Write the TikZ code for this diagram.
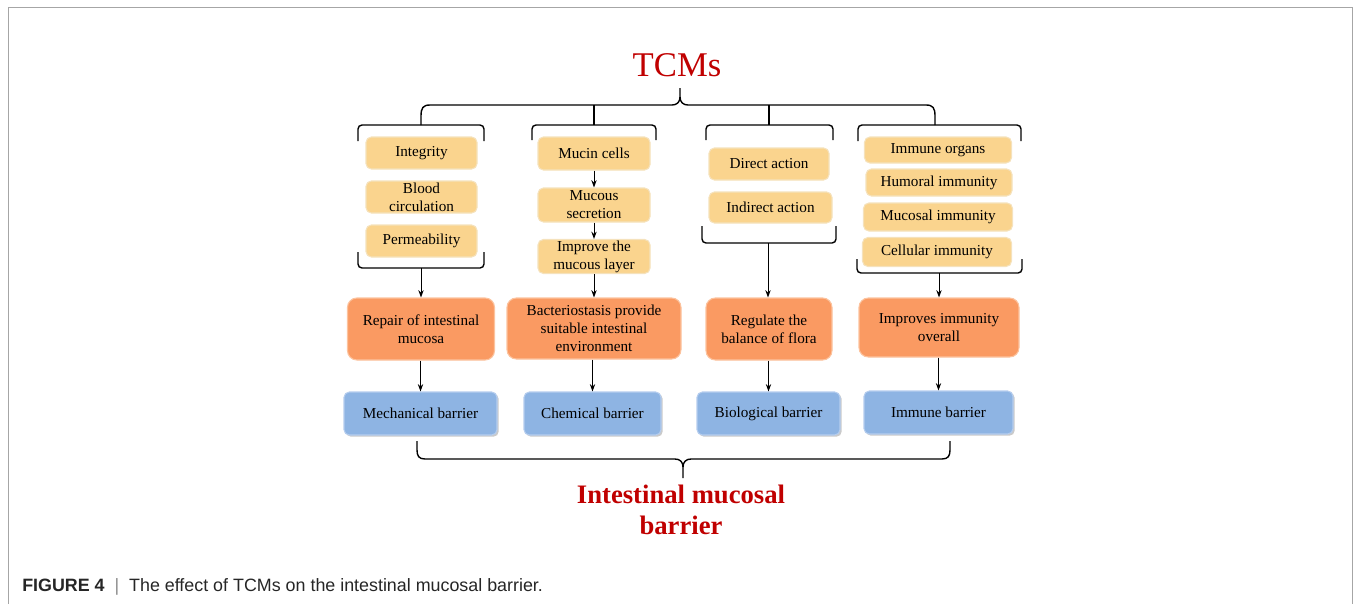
\documentclass[tikz,border=0pt]{standalone}
\usepackage{fontspec}
\setmainfont{Liberation Serif}
\newfontfamily\capfont{Liberation Sans}
\usetikzlibrary{arrows.meta,shadows}
\definecolor{tcmred}{HTML}{C00000}
\definecolor{ybox}{HTML}{FAD48E}
\definecolor{yline}{HTML}{F5E2BC}
\definecolor{obox}{HTML}{FA9A62}
\definecolor{oline}{HTML}{FCC39E}
\definecolor{bbox}{HTML}{8EB4E3}
\definecolor{bline}{HTML}{B5CDEE}
\definecolor{frame}{HTML}{A6A6A6}
\begin{document}
\begin{tikzpicture}[x=0.75pt,y=-0.75pt,
  sz/.style 2 args={minimum width=#1*0.75pt, minimum height=#2*0.75pt},
  box/.style={inner sep=0pt, align=center, font=\fontsize{11.4}{13.5}\selectfont},
  ybx/.style={box, fill=ybox, draw=yline, line width=0.8pt, rounded corners=4pt},
  obx/.style={box, fill=obox, draw=oline, line width=0.8pt, rounded corners=7pt},
  bbx/.style={box, fill=bbox, draw=bline, line width=0.8pt, rounded corners=4pt,
    drop shadow={shadow xshift=1.3pt, shadow yshift=-1.3pt, opacity=0.35, fill=black!60}},
  arr/.style={-{Stealth[length=5.5pt,width=4pt]}, line width=0.75pt},
  brk/.style={line width=1.05pt, rounded corners=3pt},
  brace/.style={line width=1.05pt}
]
\useasboundingbox (0,0) rectangle (1356,604);
% frame
\draw[frame, line width=1pt] (8.5,604) -- (8.5,7.5) -- (1352.5,7.5) -- (1352.5,604);

% title
\node[text=tcmred, font=\fontsize{26}{30}\selectfont] (tcm) at (677,65) {TCMs};

% top brace
\coordinate (tb) at (680,88);
\coordinate (g1t) at (421,125);
\coordinate (g2t) at (594,125);
\coordinate (g3t) at (769,125);
\coordinate (g4t) at (935,125);
\draw[brace] (g1t) -- (421,116) .. controls (421,108) and (423,105) .. (430,105) -- (672,105)
  .. controls (677,105) and (680,102) .. (680,97) -- (tb);
\draw[brace] (680,97) .. controls (680,102) and (683,105) .. (688,105) -- (926,105)
  .. controls (933,105) and (935,108) .. (935,116) -- (g4t);
\draw[brace] (594,105) -- (g2t);
\draw[brace] (769,105) -- (g3t);

% group top brackets
\draw[brk] (358,141) -- (358,125) -- (484,125) -- (484,141);
\draw[brk] (532,140) -- (532,125) -- (656,125) -- (656,140);
\draw[brk] (706,140) -- (706,125) -- (833,125) -- (833,140);
\draw[brk] (858,141) -- (858,125) -- (1021,125) -- (1021,141);

% group 1
\node[ybx, sz={111}{32}] (y11) at (421.5,153) {Integrity};
\node[ybx, sz={111}{32}] (y12) at (421.5,197) {Blood\\circulation};
\node[ybx, sz={111}{32}] (y13) at (421.5,241) {Permeability};
\draw[brk] (358,252) -- (358,268) -- (484,268) -- (484,252);
\coordinate (b1) at (421,268);

% group 2
\node[ybx, sz={112}{33}] (y21) at (594,153.5) {Mucin cells};
\node[ybx, sz={112}{34}] (y22) at (594,205) {Mucous\\secretion};
\node[ybx, sz={112}{34}] (y23) at (594,256.5) {Improve the\\mucous layer};
\draw[arr] (y21) -- (y22);
\draw[arr] (y22) -- (y23);

% group 3
\node[ybx, sz={120}{32}] (y31) at (769,164) {Direct action};
\node[ybx, sz={123}{31}] (y32) at (770.5,207.5) {Indirect action};
\draw[brk] (702,226) -- (702,243) -- (836,243) -- (836,226);
\coordinate (b3) at (768,243);

% group 4
\node[ybx, sz={147}{26}] (y41) at (938,150) {Immune organs};
\node[ybx, sz={146}{27}] (y42) at (939,182.5) {Humoral immunity};
\node[ybx, sz={149}{28}] (y43) at (938,217) {Mucosal immunity};
\node[ybx, sz={149}{29}] (y44) at (937,252) {Cellular immunity};
\draw[brk] (857,259) -- (857,273) -- (1022,273) -- (1022,259);
\coordinate (b4) at (939,273);

% orange boxes
\node[obx, sz={147}{62}] (o1) at (421,329) {Repair of intestinal\\mucosa};
\node[obx, sz={174}{61}] (o2) at (594,328.5) {Bacteriostasis provide\\suitable intestinal\\environment};
\node[obx, sz={126}{62}] (o3) at (769,329) {Regulate the\\balance of flora};
\node[obx, sz={160}{59}] (o4) at (939,327.5) {Improves immunity\\overall};

\draw[arr] (b1) -- (b1 |- o1.north);
\draw[arr] (y23) -- (o2);
\draw[arr] (b3) -- (b3 |- o3.north);
\draw[arr] (b4) -- (b4 |- o4.north);

% blue boxes
\node[bbx, sz={153}{43}] (m1) at (420.5,413.5) {Mechanical barrier};
\node[bbx, sz={137}{43}] (m2) at (592.5,413.5) {Chemical barrier};
\node[bbx, sz={143}{43}] (m3) at (768.5,413.5) {Biological barrier};
\node[bbx, sz={149}{43}] (m4) at (938.5,412.5) {Immune barrier};

\draw[arr] (o1.south -| m1) -- (m1);
\draw[arr] (o2.south -| m2) -- (m2);
\draw[arr] (o3.south -| m3) -- (m3);
\draw[arr] (o4.south -| m4) -- (m4);

% bottom brace
\coordinate (bb) at (683,478);
\draw[brace] (417,441) -- (417,450) .. controls (417,456) and (419,459) .. (425,459) -- (675,459)
  .. controls (680,459) and (683,462) .. (683,467) -- (bb);
\draw[brace] (683,467) .. controls (683,462) and (686,459) .. (691,459) -- (942,459)
  .. controls (948,459) and (950,456) .. (950,450) -- (950,441);

\node[text=tcmred, align=center, font=\bfseries\fontsize{20}{23.5}\selectfont] (imb) at (681,510)
  {Intestinal mucosal\\barrier};

% caption
\node[anchor=base west, inner sep=0pt, text=black!85, font=\capfont\fontsize{13.4}{15}\selectfont] (cap) at (22,591)
  {\textbf{FIGURE 4}\ \ {\color{black!45}|}\ \ The effect of TCMs on the intestinal mucosal barrier.};
\end{tikzpicture}
\end{document}
